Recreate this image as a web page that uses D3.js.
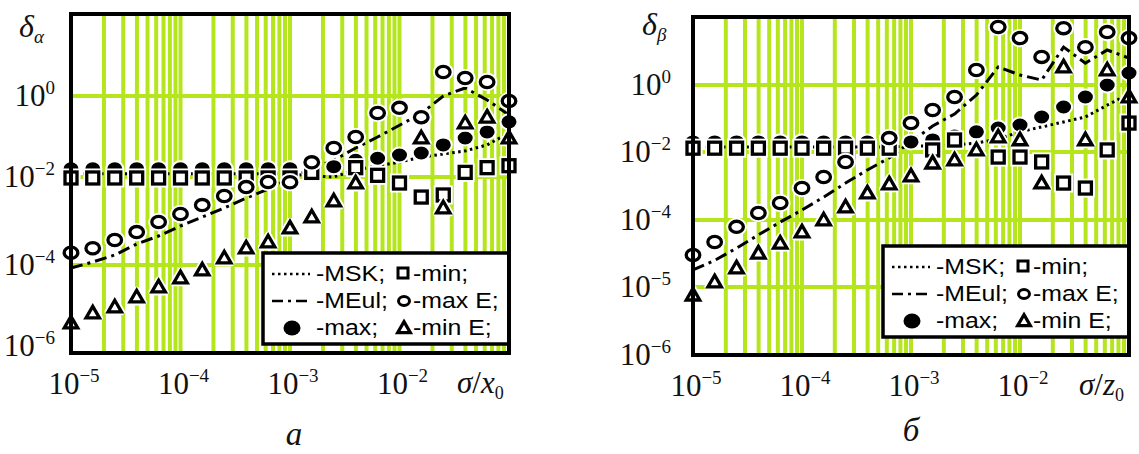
<!DOCTYPE html>
<html>
<head>
<meta charset="utf-8">
<script src="https://cdn.jsdelivr.net/npm/d3@7"></script>
<style>
  body { margin: 0; background: #fff; }
  svg { display: block; }
</style>
</head>
<body>
<svg id="chart" width="1139" height="454"></svg>
<script>
// sigma / x0 (or z0) sample points, same for both panels
var sigma = [1e-5, 1.58e-5, 2.51e-5, 3.98e-5, 6.31e-5,
             1e-4, 1.58e-4, 2.51e-4, 3.98e-4, 6.31e-4,
             1e-3, 1.58e-3, 2.51e-3, 3.98e-3, 6.31e-3,
             1e-2, 1.58e-2, 2.51e-2, 3.98e-2, 6.31e-2, 1e-1];

// panel a : delta alpha
var mskA  = [0.012, 0.012, 0.012, 0.012, 0.012, 0.012, 0.012, 0.012, 0.012, 0.012, 0.012,
             0.0106, 0.010, 0.0149, 0.0187, 0.0234, 0.031, 0.037, 0.044, 0.062, 0.122];
var meulA = [8.4e-5, 1.17e-4, 1.69e-4, 3.0e-4, 4.56e-4, 7.7e-4, 1.23e-3, 1.97e-3, 3.33e-3, 5.3e-3, 9.5e-3,
             0.0158, 0.026, 0.052, 0.097, 0.19, 0.37, 1.0, 1.57, 0.80, 0.34];
var maxA  = [0.016, 0.016, 0.016, 0.016, 0.016, 0.016, 0.016, 0.016, 0.016, 0.016, 0.016,
             0.015, 0.018, 0.026, 0.029, 0.035, 0.039, 0.062, 0.092, 0.13, 0.23];
var minA  = [0.0095, 0.0095, 0.0095, 0.0095, 0.0095, 0.0095, 0.0095, 0.0095, 0.0095, 0.0095, 0.0095,
             0.013, null, 0.017, 0.011, 0.0073, 0.0035, 0.0039, 0.013, 0.017, 0.019];
var maxEA = [1.9e-4, 2.4e-4, 3.7e-4, 5.6e-4, 9.5e-4, 1.44e-3, 2.3e-3, 3.7e-3, 5.9e-3, 7.7e-3, 7.6e-3,
             0.023, 0.052, 0.097, 0.38, 0.51, 0.30, 3.85, 2.75, 2.2, 0.75];
var minEA = [3.7e-6, 6.5e-6, 9.2e-6, 1.62e-5, 2.86e-5, 4.8e-5, 7.5e-5, 1.44e-4, 2.43e-4, 3.33e-4, 6.9e-4,
             1.23e-3, 2.85e-3, 7.3e-3, null, null, 0.092, 1.97e-3, 0.215, 0.30, 0.092];

// panel b : delta beta
var mskB  = [0.0141, 0.0141, 0.0141, 0.0141, 0.0141, 0.0141, 0.0141, 0.0141, 0.0141, 0.0141, 0.0151,
             0.0151, 0.0162, 0.0186, 0.0244, 0.040, 0.056, 0.079, 0.111, 0.25, 0.54];
var meulB = [1.8e-5, 2.5e-5, 3.8e-5, 6.0e-5, 9.3e-5, 1.97e-4, 4.7e-4, 1.22e-3, 2.96e-3, 6.7e-3, 0.020,
             0.060, 0.136, 0.50, 3.4, 1.97, 1.40, 13, 4.4, 10.7, 6.2];
var maxB  = [0.020, 0.020, 0.020, 0.020, 0.020, 0.020, 0.020, 0.020, 0.020, 0.020, 0.020,
             0.023, 0.030, 0.040, 0.052, 0.064, 0.111, 0.22, 0.44, 1.0, 2.25];
var minB  = [0.013, 0.013, 0.013, 0.013, 0.013, 0.013, 0.013, 0.013, 0.013, 0.013, null,
             0.0115, 0.0228, null, 0.0071, 0.0071, 0.0051, 1.22e-3, 8.7e-4, 0.0115, 0.073];
var maxEB = [3.0e-5, 4.7e-5, 7.9e-5, 1.61e-4, 3.16e-4, 8.7e-4, 1.84e-3, 5.1e-3, null, 0.026, 0.073,
             0.18, 0.44, 2.76, 51, 24, 6.7, 47, 13, 36, 24];
var minEB = [7.6e-6, 1.19e-5, 1.92e-5, 3.2e-5, 4.5e-5, 6.6e-5, 1.0e-4, 2.41e-4, 6.2e-4, 1.15e-3, 1.97e-3,
             4.7e-3, 5.8e-3, 0.0115, 0.028, 0.023, 1.22e-3, 3.4, 0.023, 2.76, 0.44];

// tick values
var xTicks = [1e-5, 1e-4, 1e-3, 1e-2];
var yTicksA = [1e-6, 1e-4, 1e-2, 1];
var yGridA = [1e-4, 1e-2, 1];
var yTicksB = [1e-6, 1e-5, 1e-4, 1e-2, 1];
var yGridB = [1e-5, 1e-4, 1e-2, 1];

var GREEN = "#b5e61d";
var SERIF = "'Liberation Serif', 'DejaVu Serif', 'Times New Roman', serif";
var SANS = "'Liberation Sans', Arial, sans-serif";
var svg = d3.select("#chart");

function pow10(g, v, x, y, anchor) {
  var e = Math.round(Math.log10(v));
  var t = g.append("text").attr("font-family", SERIF).attr("font-size", 31).attr("fill", "#111")
    .attr("x", x).attr("y", y).attr("text-anchor", anchor);
  t.append("tspan").text("10");
  t.append("tspan").attr("dy", -12).attr("font-size", 19).text(e === 0 ? "0" : "\u2212" + (-e));
}

function legText(g, x, y, s) {
  g.append("text").attr("font-family", SANS).attr("font-size", 22).attr("fill", "#000")
    .attr("transform", "translate(" + x + "," + y + ") scale(1.13,1)")
    .text(s);
}

function mathText(g, x, y, size) {
  return g.append("text").attr("font-family", SERIF).attr("font-style", "italic")
    .attr("fill", "#111").attr("x", x).attr("y", y).attr("font-size", size);
}

function drawPanel(p) {
  var g = svg.append("g");
  var x = d3.scaleLog().domain([1e-5, 1e-1]).range([p.left, p.right]);
  var y = d3.scaleLog().domain(p.yDom).range(p.yRng);

  var clipId = "clip" + p.id;
  svg.append("clipPath").attr("id", clipId).append("rect")
    .attr("x", p.left).attr("y", p.top).attr("width", p.right - p.left).attr("height", p.bottom - p.top);

  var grid = g.append("g").attr("clip-path", "url(#" + clipId + ")")
    .attr("stroke", GREEN).attr("stroke-width", 4);
  grid.selectAll("line.v").data(x.ticks()).enter().append("line")
    .attr("x1", function(d) { return x(d); }).attr("x2", function(d) { return x(d); })
    .attr("y1", p.top).attr("y2", p.bottom);
  grid.selectAll("line.h").data(p.yGrid).enter().append("line")
    .attr("y1", function(d) { return y(d); }).attr("y2", function(d) { return y(d); })
    .attr("x1", p.left).attr("x2", p.right);

  // tick labels
  xTicks.forEach(function(v) { pow10(g, v, x(v) + 3, p.bottom + 41, "middle"); });
  p.yTicks.forEach(function(v) { pow10(g, v, p.left - p.yLabOff, y(v) + 10, "end"); });

  var pts = function(arr) {
    return arr.map(function(v, i) { return {x: sigma[i], y: v}; }).filter(function(d) { return d.y != null; });
  };
  var line = d3.line().x(function(d) { return x(d.x); }).y(function(d) { return y(d.y); });

  var plot = g.append("g");
  plot.append("path").datum(pts(p.msk)).attr("d", line)
    .attr("fill", "none").attr("stroke", "#000").attr("stroke-width", 3).attr("stroke-dasharray", "2.5,3.5");
  plot.append("path").datum(pts(p.meul)).attr("d", line)
    .attr("fill", "none").attr("stroke", "#000").attr("stroke-width", 3).attr("stroke-dasharray", "12,5,3,5");

  function layer(arr, draw) {
    var sel = plot.append("g").selectAll("g").data(pts(arr)).enter().append("g")
      .attr("transform", function(d) { return "translate(" + x(d.x) + "," + y(d.y) + ")"; });
    draw(sel);
  }
  var tri = d3.symbol().type(d3.symbolTriangle).size(78);

  layer(p.max, function(s) {
    s.append("ellipse").attr("rx", 8.5).attr("ry", 7.5).attr("fill", "#000")
      .attr("stroke", "#fff").attr("stroke-width", 2);
  });
  layer(p.min, function(s) {
    s.append("rect").attr("x", -6).attr("y", -6).attr("width", 12).attr("height", 12)
      .attr("fill", "#fff").attr("stroke", "#fff").attr("stroke-width", 7);
    s.append("rect").attr("x", -6).attr("y", -6).attr("width", 12).attr("height", 12)
      .attr("fill", "#fff").attr("stroke", "#000").attr("stroke-width", 3.3);
  });
  layer(p.minE, function(s) {
    s.append("path").attr("d", tri).attr("transform", "translate(0,1)")
      .attr("fill", "#fff").attr("stroke", "#fff").attr("stroke-width", 7).attr("stroke-linejoin", "round");
    s.append("path").attr("d", tri).attr("transform", "translate(0,1)")
      .attr("fill", "#fff").attr("stroke", "#000").attr("stroke-width", 3.3).attr("stroke-linejoin", "miter");
  });
  layer(p.maxE, function(s) {
    s.append("ellipse").attr("rx", 6.8).attr("ry", 5.6)
      .attr("fill", "#fff").attr("stroke", "#fff").attr("stroke-width", 7);
    s.append("ellipse").attr("rx", 6.8).attr("ry", 5.6)
      .attr("fill", "#fff").attr("stroke", "#000").attr("stroke-width", 3.3);
  });

  // legend
  var lg = g.append("g").attr("transform", "translate(" + p.legX + "," + p.legY + ")");
  lg.append("rect").attr("x", 0).attr("y", 0).attr("width", p.right - p.legX).attr("height", 91)
    .attr("fill", "#fff").attr("stroke", "#000").attr("stroke-width", 3.5);
  var r1 = 28, r2 = 55, r3 = 82;
  lg.append("line").attr("x1", 9).attr("x2", 47).attr("y1", r1 - 7).attr("y2", r1 - 7)
    .attr("stroke", "#000").attr("stroke-width", 2.5).attr("stroke-dasharray", "2.5,3.5");
  lg.append("line").attr("x1", 9).attr("x2", 47).attr("y1", r2 - 7).attr("y2", r2 - 7)
    .attr("stroke", "#000").attr("stroke-width", 2.5).attr("stroke-dasharray", "11,5,3,5");
  lg.append("ellipse").attr("cx", 29).attr("cy", r3 - 7).attr("rx", 8.5).attr("ry", 7.5).attr("fill", "#000");
  legText(lg, 53, r1, "-MSK;");
  legText(lg, 53, r2, "-MEul;");
  legText(lg, 53, r3, "-max;");
  lg.append("rect").attr("x", 135).attr("y", r1 - 13).attr("width", 10).attr("height", 10)
    .attr("fill", "#fff").attr("stroke", "#000").attr("stroke-width", 3);
  lg.append("ellipse").attr("cx", 141).attr("cy", r2 - 7).attr("rx", 5.5).attr("ry", 4.5)
    .attr("fill", "#fff").attr("stroke", "#000").attr("stroke-width", 3);
  lg.append("path").attr("d", d3.symbol().type(d3.symbolTriangle).size(70))
    .attr("transform", "translate(141," + (r3 - 6) + ")")
    .attr("fill", "#fff").attr("stroke", "#000").attr("stroke-width", 3.2);
  legText(lg, 150, r1, "-min;");
  legText(lg, 150, r2, "-max E;");
  legText(lg, 150, r3, "-min E;");

  // frame
  g.append("rect").attr("x", p.left).attr("y", p.top)
    .attr("width", p.right - p.left).attr("height", p.bottom - p.top)
    .attr("fill", "none").attr("stroke", "#000").attr("stroke-width", 4);

  // axis titles
  var yt = mathText(g, p.yTitleX, p.yTitleY, 32);
  yt.append("tspan").text("\u03b4");
  yt.append("tspan").attr("dy", 6).attr("font-size", 19).text(p.ySub);

  var xt = mathText(g, p.xTitleX, p.bottom + 40, 31);
  xt.append("tspan").text("\u03c3");
  xt.append("tspan").attr("font-style", "normal").text("/");
  xt.append("tspan").text(p.xVar);
  xt.append("tspan").attr("font-style", "normal").attr("font-size", 18).attr("dy", 6).text("0");

  mathText(g, p.letterX, p.letterY, 33).attr("text-anchor", "middle").text(p.letter);
}

drawPanel({
  id: "a", left: 71, right: 509, top: 14, bottom: 353,
  yDom: [1e-6, 1e-4, 1e-2, 1, 100], yRng: [346, 265, 177, 96, 14],
  yTicks: yTicksA, yGrid: yGridA, yLabOff: 16,
  msk: mskA, meul: meulA, max: maxA, min: minA, maxE: maxEA, minE: minEA,
  legX: 263, legY: 253,
  yTitleX: 19, yTitleY: 37, ySub: "\u03b1",
  xTitleX: 457, xVar: "x",
  letter: "\u0430", letterX: 294, letterY: 445
});

drawPanel({
  id: "b", left: 693, right: 1129, top: 17, bottom: 355,
  yDom: [1e-6, 1e-5, 1e-4, 1e-2, 1, 100], yRng: [355, 287, 220, 152, 85, 17],
  yTicks: yTicksB, yGrid: yGridB, yLabOff: 22,
  msk: mskB, meul: meulB, max: maxB, min: minB, maxE: maxEB, minE: minEB,
  legX: 883, legY: 246,
  yTitleX: 642, yTitleY: 35, ySub: "\u03b2",
  xTitleX: 1079, xVar: "z",
  letter: "\u0431", letterX: 911, letterY: 441
});
</script>
</body>
</html>
